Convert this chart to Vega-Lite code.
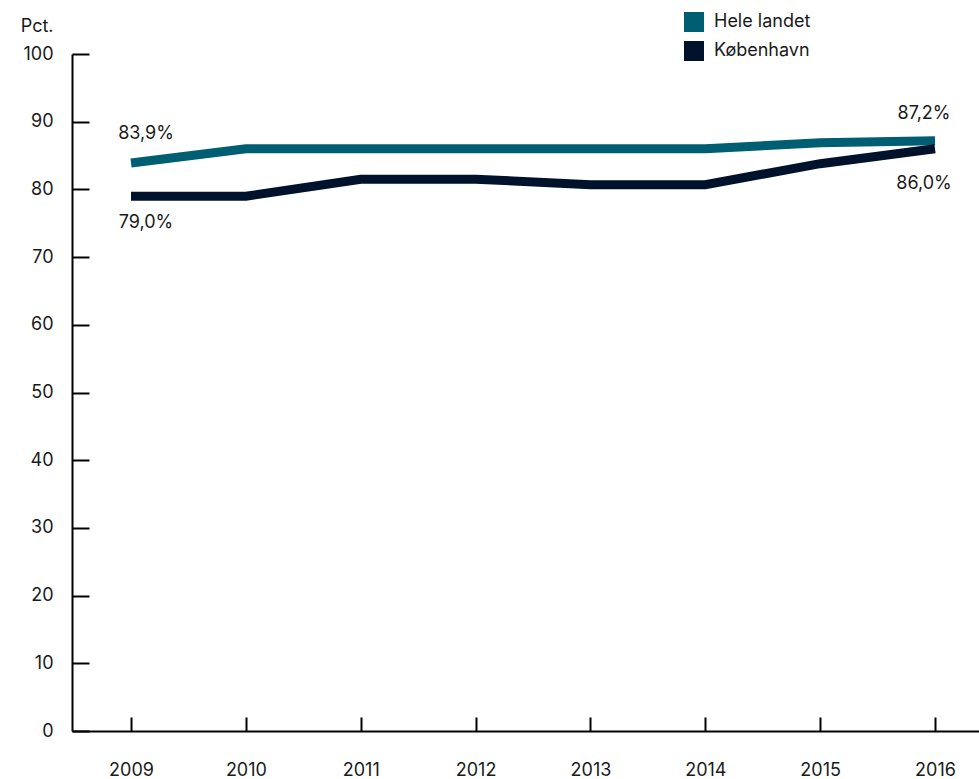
{
  "$schema": "https://vega.github.io/schema/vega-lite/v6.json",
  "width": 907,
  "height": 677,
  "autosize": {"type": "none"},
  "padding": {"left": 72, "top": 54, "right": 0, "bottom": 48},
  "background": "white",
  "config": {
    "font": "Inter",
    "view": {"stroke": null},
    "axis": {
      "grid": false,
      "domainColor": "#000000",
      "domainWidth": 2,
      "tickColor": "#000000",
      "tickWidth": 2,
      "labelFontSize": 18,
      "labelColor": "#1a1a1a",
      "labelFont": "Inter"
    }
  },
  "datasets": {
    "series": [
      {"year": 2009, "value": 83.9, "series": "Hele landet"},
      {"year": 2010, "value": 86.0, "series": "Hele landet"},
      {"year": 2011, "value": 86.0, "series": "Hele landet"},
      {"year": 2012, "value": 86.0, "series": "Hele landet"},
      {"year": 2013, "value": 86.0, "series": "Hele landet"},
      {"year": 2014, "value": 86.0, "series": "Hele landet"},
      {"year": 2015, "value": 86.9, "series": "Hele landet"},
      {"year": 2016, "value": 87.2, "series": "Hele landet"},
      {"year": 2009, "value": 79.0, "series": "København"},
      {"year": 2010, "value": 79.0, "series": "København"},
      {"year": 2011, "value": 81.5, "series": "København"},
      {"year": 2012, "value": 81.5, "series": "København"},
      {"year": 2013, "value": 80.7, "series": "København"},
      {"year": 2014, "value": 80.7, "series": "København"},
      {"year": 2015, "value": 83.8, "series": "København"},
      {"year": 2016, "value": 86.0, "series": "København"}
    ],
    "labels": [
      {"year": 2009, "value": 83.9, "series": "Hele landet", "label": "83,9%"},
      {"year": 2009, "value": 79.0, "series": "København", "label": "79,0%"},
      {"year": 2016, "value": 87.2, "series": "Hele landet", "label": "87,2%"},
      {"year": 2016, "value": 86.0, "series": "København", "label": "86,0%"}
    ]
  },
  "encoding": {
    "x": {
      "field": "year",
      "type": "quantitative",
      "scale": {"domain": [2008.486, 2016.383], "nice": false, "zero": false},
      "axis": {
        "values": [2009, 2010, 2011, 2012, 2013, 2014, 2015, 2016],
        "format": "d",
        "title": null,
        "tickSize": -14,
        "labelPadding": 44,
        "labelBaseline": "top"
      }
    },
    "y": {
      "field": "value",
      "type": "quantitative",
      "scale": {"domain": [0, 100], "nice": false},
      "axis": {
        "values": [0, 10, 20, 30, 40, 50, 60, 70, 80, 90, 100],
        "title": "Pct.",
        "titleAngle": 0,
        "titleAlign": "right",
        "titleBaseline": "alphabetic",
        "titleX": -19,
        "titleY": -23,
        "titleFontSize": 18,
        "titleFontWeight": "normal",
        "titleColor": "#1a1a1a",
        "titleFont": "Inter",
        "tickSize": -17,
        "labelPadding": 36
      }
    }
  },
  "layer": [
    {
      "data": {"name": "series"},
      "mark": {"type": "line", "strokeWidth": 9, "strokeCap": "butt", "strokeJoin": "miter"},
      "encoding": {
        "color": {
          "field": "series",
          "type": "nominal",
          "scale": {"domain": ["Hele landet", "København"], "range": ["#005E73", "#00112B"]},
          "legend": {
            "title": null,
            "orient": "none",
            "legendX": 612,
            "legendY": -42,
            "symbolType": "square",
            "symbolSize": 400,
            "symbolStrokeWidth": 0,
            "labelFontSize": 18,
            "labelColor": "#1a1a1a",
            "labelFont": "Inter",
            "labelOffset": 10,
            "rowPadding": 9,
            "padding": 0,
            "encode": {
              "symbols": {
                "update": {
                  "fill": {"scale": "color", "field": "value"},
                  "strokeWidth": {"value": 0}
                }
              }
            }
          }
        }
      }
    },
    {
      "data": {"name": "labels"},
      "transform": [{"filter": "datum.year == 2009 && datum.series == 'Hele landet'"}],
      "mark": {"type": "text", "dx": 15, "dy": -29, "fontSize": 18, "baseline": "middle", "align": "center", "color": "#1a1a1a"},
      "encoding": {"text": {"field": "label"}}
    },
    {
      "data": {"name": "labels"},
      "transform": [{"filter": "datum.year == 2009 && datum.series == 'København'"}],
      "mark": {"type": "text", "dx": 15, "dy": 27, "fontSize": 18, "baseline": "middle", "align": "center", "color": "#1a1a1a"},
      "encoding": {"text": {"field": "label"}}
    },
    {
      "data": {"name": "labels"},
      "transform": [{"filter": "datum.year == 2016 && datum.series == 'Hele landet'"}],
      "mark": {"type": "text", "dx": -11, "dy": -27, "fontSize": 18, "baseline": "middle", "align": "center", "color": "#1a1a1a"},
      "encoding": {"text": {"field": "label"}}
    },
    {
      "data": {"name": "labels"},
      "transform": [{"filter": "datum.year == 2016 && datum.series == 'København'"}],
      "mark": {"type": "text", "dx": -11, "dy": 35, "fontSize": 18, "baseline": "middle", "align": "center", "color": "#1a1a1a"},
      "encoding": {"text": {"field": "label"}}
    }
  ]
}
